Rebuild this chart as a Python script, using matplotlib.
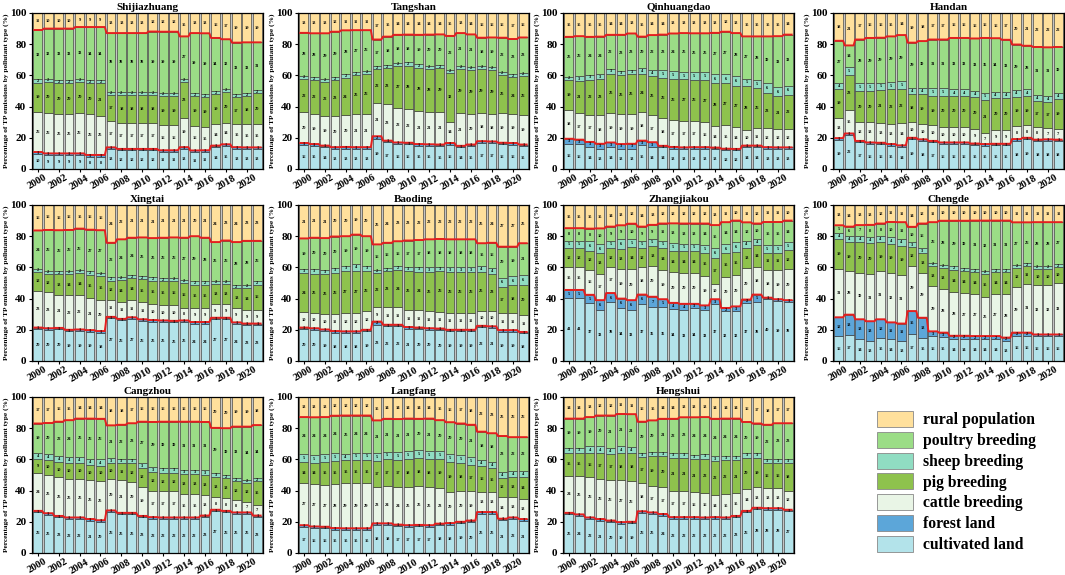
import numpy as np
import matplotlib
matplotlib.use("Agg")
import matplotlib.pyplot as plt
from matplotlib.patches import Patch

years = list(range(2000, 2022))
categories = ["cultivated land", "forest land", "cattle breeding", "pig breeding",
              "sheep breeding", "poultry breeding", "rural population"]
colors = ["#B3E3EA", "#5CA6D9", "#E9F5E6", "#8EC24D", "#90DDC2", "#9BDD86", "#FFE09C"]

# each city: rows = categories in order above (bottom -> top), 22 years (2000-2021)
shijiazhuang = [
    [10, 9, 9, 9, 9, 8, 8, 13, 12, 12, 12, 12, 11, 11, 13, 11, 11, 14, 15, 13, 13, 13],
    [1, 1, 1, 1, 1, 1, 1, 1, 1, 1, 1, 1, 1, 1, 1, 1, 1, 1, 1, 1, 1, 1],
    [26, 26, 25, 25, 26, 26, 25, 17, 17, 17, 17, 17, 16, 16, 19, 16, 15, 14, 14, 15, 15, 15],
    [19, 20, 20, 20, 20, 20, 21, 17, 18, 18, 18, 18, 19, 19, 23, 19, 19, 19, 20, 17, 18, 20],
    [2, 2, 2, 2, 2, 2, 2, 2, 2, 2, 2, 2, 2, 2, 2, 2, 2, 2, 2, 2, 2, 2],
    [32, 32, 33, 33, 33, 34, 34, 38, 38, 38, 38, 39, 39, 39, 27, 39, 39, 34, 32, 33, 33, 31],
    [11, 10, 10, 10, 9, 9, 9, 13, 13, 13, 13, 12, 12, 12, 15, 13, 13, 16, 17, 19, 19, 19],
]
tangshan = [
    [16, 15, 14, 13, 13, 13, 13, 19, 17, 16, 16, 15, 15, 15, 16, 14, 15, 17, 17, 16, 16, 15],
    [1, 1, 1, 1, 1, 1, 1, 2, 1, 1, 1, 1, 1, 1, 1, 1, 1, 1, 1, 1, 1, 1],
    [20, 19, 19, 20, 20, 21, 21, 21, 23, 22, 22, 21, 21, 21, 14, 21, 20, 18, 18, 19, 19, 19],
    [22, 22, 22, 23, 24, 25, 26, 22, 23, 27, 28, 28, 28, 29, 32, 29, 29, 29, 29, 25, 24, 26],
    [2, 2, 2, 2, 2, 2, 2, 2, 2, 2, 2, 2, 2, 2, 2, 2, 2, 2, 2, 2, 2, 2],
    [28, 28, 29, 29, 28, 27, 26, 17, 18, 18, 18, 19, 20, 20, 22, 21, 21, 18, 19, 22, 23, 23],
    [13, 13, 13, 12, 11, 11, 11, 17, 15, 14, 14, 14, 14, 14, 15, 13, 14, 16, 16, 16, 17, 16],
]
qinhuangdao = [
    [16, 16, 14, 13, 14, 13, 13, 15, 14, 14, 13, 13, 13, 13, 13, 12, 12, 14, 14, 13, 13, 13],
    [3, 3, 3, 3, 3, 3, 3, 3, 3, 1, 1, 1, 1, 1, 1, 1, 1, 1, 1, 1, 1, 1],
    [18, 17, 17, 18, 19, 19, 19, 18, 17, 18, 17, 17, 17, 16, 14, 15, 14, 10, 11, 12, 12, 12],
    [19, 21, 22, 23, 25, 25, 25, 24, 25, 26, 26, 27, 26, 27, 28, 27, 27, 28, 26, 23, 21, 22],
    [2, 3, 3, 3, 3, 3, 3, 4, 4, 5, 5, 5, 5, 5, 6, 6, 6, 5, 5, 6, 6, 6],
    [25, 26, 24, 24, 22, 23, 23, 20, 22, 23, 24, 25, 25, 25, 27, 27, 28, 27, 28, 30, 33, 33],
    [15, 15, 15, 15, 14, 14, 13, 15, 14, 14, 13, 13, 13, 13, 13, 12, 13, 15, 15, 15, 15, 14],
]
handan = [
    [19, 22, 17, 16, 16, 15, 14, 19, 18, 17, 16, 16, 16, 15, 15, 15, 15, 18, 19, 18, 18, 18],
    [1, 1, 1, 1, 1, 1, 1, 1, 1, 1, 1, 1, 1, 1, 1, 1, 1, 1, 1, 1, 1, 1],
    [13, 15, 12, 13, 13, 13, 14, 10, 10, 10, 10, 10, 10, 9, 7, 9, 9, 8, 8, 8, 7, 7],
    [19, 23, 20, 20, 21, 22, 22, 18, 19, 19, 20, 20, 20, 20, 21, 20, 20, 19, 19, 17, 17, 19],
    [4, 5, 5, 5, 5, 5, 5, 4, 4, 5, 5, 4, 4, 4, 5, 4, 4, 4, 4, 4, 4, 4],
    [27, 14, 28, 29, 29, 29, 29, 29, 30, 31, 31, 33, 33, 33, 35, 34, 33, 29, 28, 31, 31, 30],
    [18, 21, 17, 16, 16, 15, 14, 19, 18, 17, 17, 16, 16, 16, 16, 16, 17, 20, 21, 22, 22, 22],
]
xingtai = [
    [20, 20, 20, 19, 19, 19, 18, 27, 26, 27, 26, 25, 25, 25, 25, 24, 24, 27, 27, 24, 23, 23],
    [1, 1, 1, 1, 1, 1, 1, 1, 1, 1, 1, 1, 1, 1, 1, 1, 1, 1, 1, 1, 1, 1],
    [23, 23, 21, 22, 22, 21, 20, 11, 11, 11, 11, 10, 10, 10, 8, 9, 9, 9, 9, 9, 9, 9],
    [12, 12, 13, 14, 14, 15, 15, 12, 14, 14, 15, 15, 15, 16, 16, 15, 15, 13, 13, 13, 14, 16],
    [2, 2, 2, 2, 2, 2, 2, 2, 2, 2, 2, 2, 2, 2, 2, 2, 2, 2, 2, 2, 2, 2],
    [24, 26, 26, 26, 26, 27, 27, 22, 24, 24, 25, 25, 26, 26, 27, 29, 28, 25, 26, 28, 28, 26],
    [16, 16, 16, 16, 15, 16, 16, 24, 22, 21, 21, 21, 21, 21, 21, 20, 21, 24, 23, 24, 23, 23],
]
baoding = [
    [20, 20, 19, 18, 18, 18, 19, 23, 22, 22, 21, 20, 20, 20, 19, 19, 19, 22, 21, 19, 19, 18],
    [1, 1, 1, 1, 1, 1, 1, 2, 1, 1, 1, 1, 1, 1, 1, 1, 1, 1, 1, 1, 1, 1],
    [10, 10, 10, 11, 12, 12, 12, 9, 11, 11, 11, 11, 11, 11, 11, 11, 11, 10, 10, 11, 11, 11],
    [24, 25, 25, 26, 27, 27, 26, 22, 23, 24, 25, 24, 25, 26, 26, 26, 26, 25, 23, 17, 18, 20],
    [3, 3, 3, 3, 3, 4, 3, 2, 2, 2, 3, 3, 3, 3, 3, 3, 3, 4, 4, 6, 6, 6],
    [19, 20, 20, 20, 19, 19, 19, 16, 16, 16, 17, 17, 18, 18, 18, 18, 18, 15, 16, 20, 19, 21],
    [21, 21, 21, 20, 20, 19, 20, 25, 24, 23, 23, 22, 22, 22, 22, 22, 22, 25, 24, 27, 27, 25],
]
zhangjiakou = [
    [41, 41, 37, 33, 38, 34, 33, 37, 35, 35, 34, 33, 34, 33, 37, 32, 32, 37, 38, 40, 39, 38],
    [5, 5, 5, 6, 6, 6, 6, 6, 7, 5, 4, 4, 3, 3, 3, 2, 3, 2, 5, 1, 1, 1],
    [15, 15, 16, 17, 17, 19, 20, 18, 20, 19, 20, 20, 20, 19, 10, 20, 20, 20, 18, 18, 19, 20],
    [12, 12, 12, 13, 12, 13, 14, 12, 13, 14, 14, 14, 14, 15, 17, 15, 15, 13, 14, 11, 11, 12],
    [5, 5, 6, 6, 5, 6, 5, 5, 5, 5, 5, 5, 5, 5, 6, 6, 6, 4, 4, 5, 5, 5],
    [8, 8, 8, 10, 9, 9, 10, 9, 9, 11, 13, 13, 13, 14, 15, 14, 14, 12, 10, 15, 15, 14],
    [15, 15, 15, 15, 14, 13, 12, 14, 13, 12, 12, 12, 12, 12, 13, 11, 10, 11, 12, 11, 11, 10],
]
chengde = [
    [16, 17, 14, 13, 15, 14, 13, 17, 15, 16, 15, 14, 14, 14, 14, 14, 13, 16, 16, 16, 16, 16],
    [12, 13, 13, 13, 12, 11, 11, 15, 13, 3, 3, 2, 2, 2, 2, 2, 2, 2, 2, 1, 1, 1],
    [31, 28, 30, 31, 31, 32, 31, 29, 29, 29, 28, 28, 27, 27, 25, 27, 28, 29, 31, 32, 32, 33],
    [19, 19, 20, 20, 19, 19, 19, 12, 13, 13, 13, 14, 14, 14, 15, 14, 14, 12, 11, 10, 10, 10],
    [4, 4, 4, 4, 4, 4, 4, 3, 3, 2, 2, 2, 2, 2, 2, 2, 2, 2, 2, 2, 2, 2],
    [5, 6, 7, 8, 8, 10, 11, 10, 16, 26, 28, 29, 30, 31, 32, 31, 31, 27, 26, 28, 28, 27],
    [13, 14, 13, 13, 12, 11, 11, 14, 12, 11, 10, 10, 10, 10, 10, 10, 10, 11, 11, 11, 11, 11],
]
cangzhou = [
    [26, 25, 23, 22, 22, 21, 20, 26, 25, 25, 23, 22, 22, 22, 22, 22, 23, 27, 26, 25, 25, 23],
    [1, 1, 1, 1, 1, 1, 1, 1, 1, 1, 1, 1, 1, 1, 1, 1, 1, 1, 1, 1, 1, 1],
    [24, 25, 25, 25, 25, 25, 25, 20, 21, 20, 19, 17, 17, 17, 15, 15, 13, 8, 8, 8, 7, 7],
    [9, 10, 10, 10, 10, 10, 10, 10, 11, 12, 12, 12, 12, 12, 13, 13, 13, 13, 13, 12, 12, 15],
    [4, 4, 4, 4, 4, 4, 4, 3, 3, 3, 3, 3, 3, 3, 3, 3, 3, 3, 2, 2, 2, 2],
    [19, 20, 22, 24, 25, 26, 26, 21, 22, 23, 27, 29, 30, 30, 31, 31, 31, 29, 30, 33, 34, 34],
    [17, 17, 16, 15, 14, 14, 14, 18, 18, 17, 16, 16, 16, 16, 16, 16, 16, 20, 20, 19, 19, 18],
]
langfang = [
    [17, 16, 16, 15, 15, 15, 15, 18, 18, 17, 17, 17, 17, 18, 18, 19, 20, 25, 25, 21, 22, 21],
    [1, 1, 1, 1, 1, 1, 1, 1, 1, 1, 1, 1, 1, 1, 1, 1, 1, 1, 1, 1, 1, 1],
    [27, 27, 27, 28, 29, 29, 29, 23, 24, 24, 25, 25, 25, 23, 20, 20, 19, 13, 13, 14, 13, 13],
    [14, 14, 15, 15, 15, 15, 15, 17, 17, 17, 18, 18, 18, 19, 19, 18, 17, 16, 15, 12, 13, 14],
    [5, 5, 5, 5, 4, 5, 5, 5, 5, 5, 5, 5, 5, 5, 5, 5, 5, 4, 4, 4, 4, 4],
    [24, 24, 24, 24, 25, 24, 24, 21, 21, 21, 21, 20, 21, 20, 20, 20, 21, 18, 18, 23, 22, 22],
    [13, 13, 13, 12, 12, 12, 12, 15, 14, 14, 14, 14, 14, 15, 16, 17, 18, 22, 23, 25, 26, 26],
]
hengshui = [
    [25, 24, 22, 21, 20, 19, 19, 26, 25, 24, 22, 22, 22, 22, 22, 22, 23, 26, 28, 28, 28, 27],
    [1, 1, 1, 1, 1, 1, 1, 1, 1, 1, 1, 1, 1, 1, 1, 1, 1, 1, 1, 1, 1, 1],
    [24, 25, 26, 26, 26, 27, 26, 18, 17, 17, 17, 17, 16, 16, 14, 15, 15, 14, 13, 13, 13, 12],
    [15, 15, 16, 17, 17, 18, 18, 17, 19, 20, 21, 21, 21, 22, 22, 22, 21, 20, 19, 16, 16, 18],
    [3, 3, 4, 4, 4, 4, 4, 3, 3, 3, 3, 3, 3, 3, 3, 3, 3, 3, 3, 3, 3, 3],
    [19, 19, 19, 20, 21, 21, 21, 20, 20, 21, 22, 23, 24, 24, 24, 24, 24, 20, 19, 22, 23, 23],
    [14, 14, 13, 12, 12, 11, 11, 16, 15, 14, 14, 13, 13, 13, 14, 14, 14, 16, 17, 18, 17, 17],
]

cities = [("Shijiazhuang", shijiazhuang), ("Tangshan", tangshan), ("Qinhuangdao", qinhuangdao),
          ("Handan", handan), ("Xingtai", xingtai), ("Baoding", baoding),
          ("Zhangjiakou", zhangjiakou), ("Chengde", chengde), ("Cangzhou", cangzhou),
          ("Langfang", langfang), ("Hengshui", hengshui)]

SERIF = ["Liberation Serif", "DejaVu Serif"]
plt.rcParams["font.family"] = SERIF
plt.rcParams["font.weight"] = "bold"

W, H = 1065, 575
fig = plt.figure(figsize=(W / 100, H / 100), dpi=100)

col_left = [32, 298, 563, 833]
row_top = [13, 205, 397]
aw, ah = 231, 156

x = np.arange(len(years))
bw = 0.84

for k, (name, data) in enumerate(cities):
    r, c = divmod(k, 4)
    ax = fig.add_axes([col_left[c] / W, 1 - (row_top[r] + ah) / H, aw / W, ah / H])
    ax.set_facecolor("#C4C4C4")
    arr = np.array(data, dtype=float)
    pct = arr / arr.sum(axis=0) * 100
    bottom = np.zeros(len(years))
    tops = []
    for i in range(len(categories)):
        ax.bar(x, pct[i], bw, bottom=bottom, color=colors[i], edgecolor="#3a3a3a",
               linewidth=0.45, zorder=2)
        for j in range(len(years)):
            ax.text(x[j], bottom[j] + pct[i][j] / 2, str(int(arr[i][j])), ha="center",
                    va="center", fontsize=3.2, fontweight="bold", zorder=4)
        bottom = bottom + pct[i]
        tops.append(bottom.copy())
    for line_top in (tops[1], tops[5]):
        xs = np.ravel(np.column_stack([x - bw / 2, x + bw / 2]))
        ys = np.repeat(line_top, 2)
        ax.plot(xs, ys, color="#E41F1F", lw=1.4, zorder=3, solid_capstyle="butt")
    ax.set_xlim(-0.55, len(years) - 0.45)
    ax.set_ylim(0, 100)
    ax.set_yticks([0, 20, 40, 60, 80, 100])
    ax.set_xticks(x[::2])
    ax.set_xticklabels([str(y) for y in years[::2]], rotation=30, fontsize=7.5,
                       fontweight="bold")
    for lab in ax.get_yticklabels():
        lab.set_fontsize(8)
        lab.set_fontweight("bold")
    ax.tick_params(axis="both", length=2.5, width=0.8, pad=1.5)
    ax.tick_params(axis="x", pad=0.5)
    for s in ax.spines.values():
        s.set_linewidth(0.9)
    ax.set_title(name, fontsize=8, fontweight="bold", pad=2)
    ax.set_ylabel("Percentage of TP emissions by pollutant type (%)", fontsize=5.3,
                  fontweight="bold", labelpad=1)

handles = [Patch(facecolor=colors[i], edgecolor="#888888", linewidth=0.6, label=categories[i])
           for i in range(len(categories) - 1, -1, -1)]
fig.legend(handles=handles, loc="upper left", bbox_to_anchor=(866 / W, 1 - 400 / H),
           frameon=False, handlelength=2.3, handleheight=1.2,
           labelspacing=0.22, handletextpad=0.65, borderaxespad=0.3,
           prop={"family": SERIF, "weight": "bold", "size": 11.3})

fig.savefig("out.png", dpi=100)
